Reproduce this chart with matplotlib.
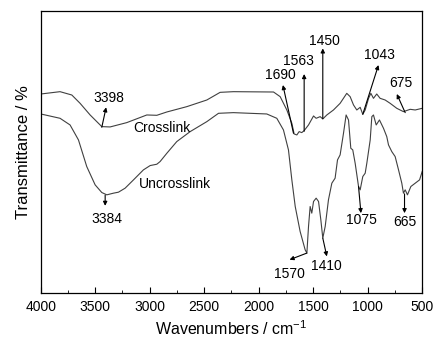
import matplotlib.pyplot as plt
from matplotlib.ticker import MultipleLocator

plt.rcParams['font.family'] = ['Liberation Sans', 'DejaVu Sans']
plt.rcParams['mathtext.fontset'] = 'custom'
plt.rcParams['mathtext.rm'] = 'Liberation Sans'

# spettro del campione reticolato (numeri d'onda in cm^-1, trasmittanza in unita' arbitrarie)
wn_cross = [4000, 3823, 3715, 3639, 3547, 3440, 3364, 3211, 3027, 2935, 2843, 2660,
            2476, 2354, 2232, 1864, 1803, 1742, 1696, 1675, 1650, 1629, 1605, 1583,
            1543, 1497, 1473, 1436, 1412, 1375, 1314, 1253, 1192, 1161, 1130, 1100,
            1069, 1045, 1023, 992, 971, 947, 917, 886, 840, 794, 733, 672, 610, 564, 500]
t_cross = [59.8, 60.5, 59.5, 57.0, 53.5, 50.0, 49.9, 51.2, 53.5, 53.4, 54.4, 56.0,
           58.0, 60.3, 60.5, 60.4, 59.0, 55.0, 51.0, 47.8, 47.5, 48.5, 48.2, 48.8,
           50.5, 53.2, 52.5, 53.0, 52.3, 53.5, 55.0, 57.0, 60.0, 59.0, 56.5, 55.0,
           55.8, 53.7, 55.0, 58.5, 60.0, 58.5, 59.8, 58.5, 58.0, 57.0, 55.5, 54.5,
           55.2, 55.0, 55.5]

# spettro del campione non reticolato
wn_uncross = [4000, 3823, 3731, 3654, 3578, 3501, 3440, 3394, 3333, 3287, 3226, 3149,
              3058, 2996, 2935, 2905, 2843, 2752, 2629, 2476, 2369, 2232, 1926, 1834,
              1773, 1727, 1696, 1665, 1620, 1574, 1558, 1543, 1528, 1513, 1497, 1473,
              1451, 1430, 1412, 1390, 1360, 1329, 1299, 1277, 1253, 1222, 1198, 1176,
              1155, 1137, 1115, 1084, 1069, 1045, 1023, 1008, 977, 962, 947, 922, 892,
              855, 825, 809, 779, 748, 717, 687, 672, 656, 635, 604, 564, 524, 500]
t_uncross = [53.8, 52.5, 50.5, 46.0, 38.0, 32.5, 30.2, 29.5, 30.0, 30.3, 31.5, 34.0,
             37.0, 38.3, 38.7, 39.5, 42.0, 45.5, 48.5, 51.5, 54.0, 54.2, 53.8, 52.5,
             49.0, 43.0, 34.0, 26.0, 18.5, 13.0, 12.0, 20.0, 26.0, 24.0, 27.5, 28.5,
             27.5, 22.0, 16.5, 20.0, 28.0, 33.0, 34.5, 40.0, 41.5, 48.0, 53.5, 52.0,
             43.5, 43.0, 39.0, 32.0, 31.0, 35.0, 36.0, 39.0, 46.0, 53.0, 53.5, 50.5,
             52.0, 49.5, 47.0, 44.5, 42.5, 41.0, 37.0, 33.0, 30.0, 31.0, 29.5, 32.0,
             33.0, 34.0, 36.5]

# etichette dei picchi: testo, posizione del testo, punta della freccia, coda sulla curva
peak_labels = ['3398', '3384', '1690', '1563', '1450', '1043', '675',
               '1570', '1410', '1075', '665']
label_pos = [(3373, 58.7), (3394, 22.3), (1797, 65.4), (1638, 69.7), (1399, 75.6),
             (891, 71.5), (695, 63.2), (1717, 5.6), (1379, 8.0), (1060, 22.0), (662, 21.2)]
arrow_head = [(3400, 55.8), (3409, 26.2), (1778, 62.5), (1583, 65.8), (1412, 73.5),
              (901, 68.5), (733, 59.8), (1717, 10.0), (1375, 11.0), (1062, 24.0), (662, 24.0)]
arrow_tail = [(3440, 49.8), (3409, 29.4), (1681, 48.0), (1583, 48.6), (1412, 52.4),
              (1045, 53.7), (656, 54.2), (1558, 12.0), (1412, 16.5), (1084, 32.0), (662, 29.8)]

fig = plt.figure(figsize=(4.43, 3.48), dpi=100)
ax = fig.add_axes([0.092, 0.158, 0.861, 0.81])

ax.plot(wn_cross, t_cross, color='#404040', lw=0.8)
ax.plot(wn_uncross, t_uncross, color='#404040', lw=0.8)

ax.text(2889, 49.7, 'Crosslink', fontsize=10, ha='center', va='center')
ax.text(2767, 32.7, 'Uncrosslink', fontsize=10, ha='center', va='center')

for lab, pos, head, tail in zip(peak_labels, label_pos, arrow_head, arrow_tail):
    ax.text(pos[0], pos[1], lab, fontsize=10, ha='center', va='center')
    ax.annotate('', xy=head, xytext=tail,
                arrowprops=dict(arrowstyle='-|>', color='black', lw=0.8,
                                mutation_scale=6, shrinkA=0, shrinkB=0))

ax.set_xlim(4000, 500)
ax.set_ylim(0, 84.7)
ax.xaxis.set_major_locator(MultipleLocator(500))
ax.xaxis.set_minor_locator(MultipleLocator(250))
ax.tick_params(axis='x', which='both', direction='in', top=False, labelsize=10, pad=5)
ax.tick_params(axis='x', which='major', length=4)
ax.tick_params(axis='x', which='minor', length=2.5)
ax.set_yticks([])
for s in ax.spines.values():
    s.set_linewidth(0.9)

ax.set_xlabel('Wavenumbers / cm$^{\\mathregular{-1}}$', fontsize=11.5, labelpad=4)
ax.set_ylabel('Transmittance / %', fontsize=12, labelpad=7)

plt.savefig('out.png', dpi=100)
